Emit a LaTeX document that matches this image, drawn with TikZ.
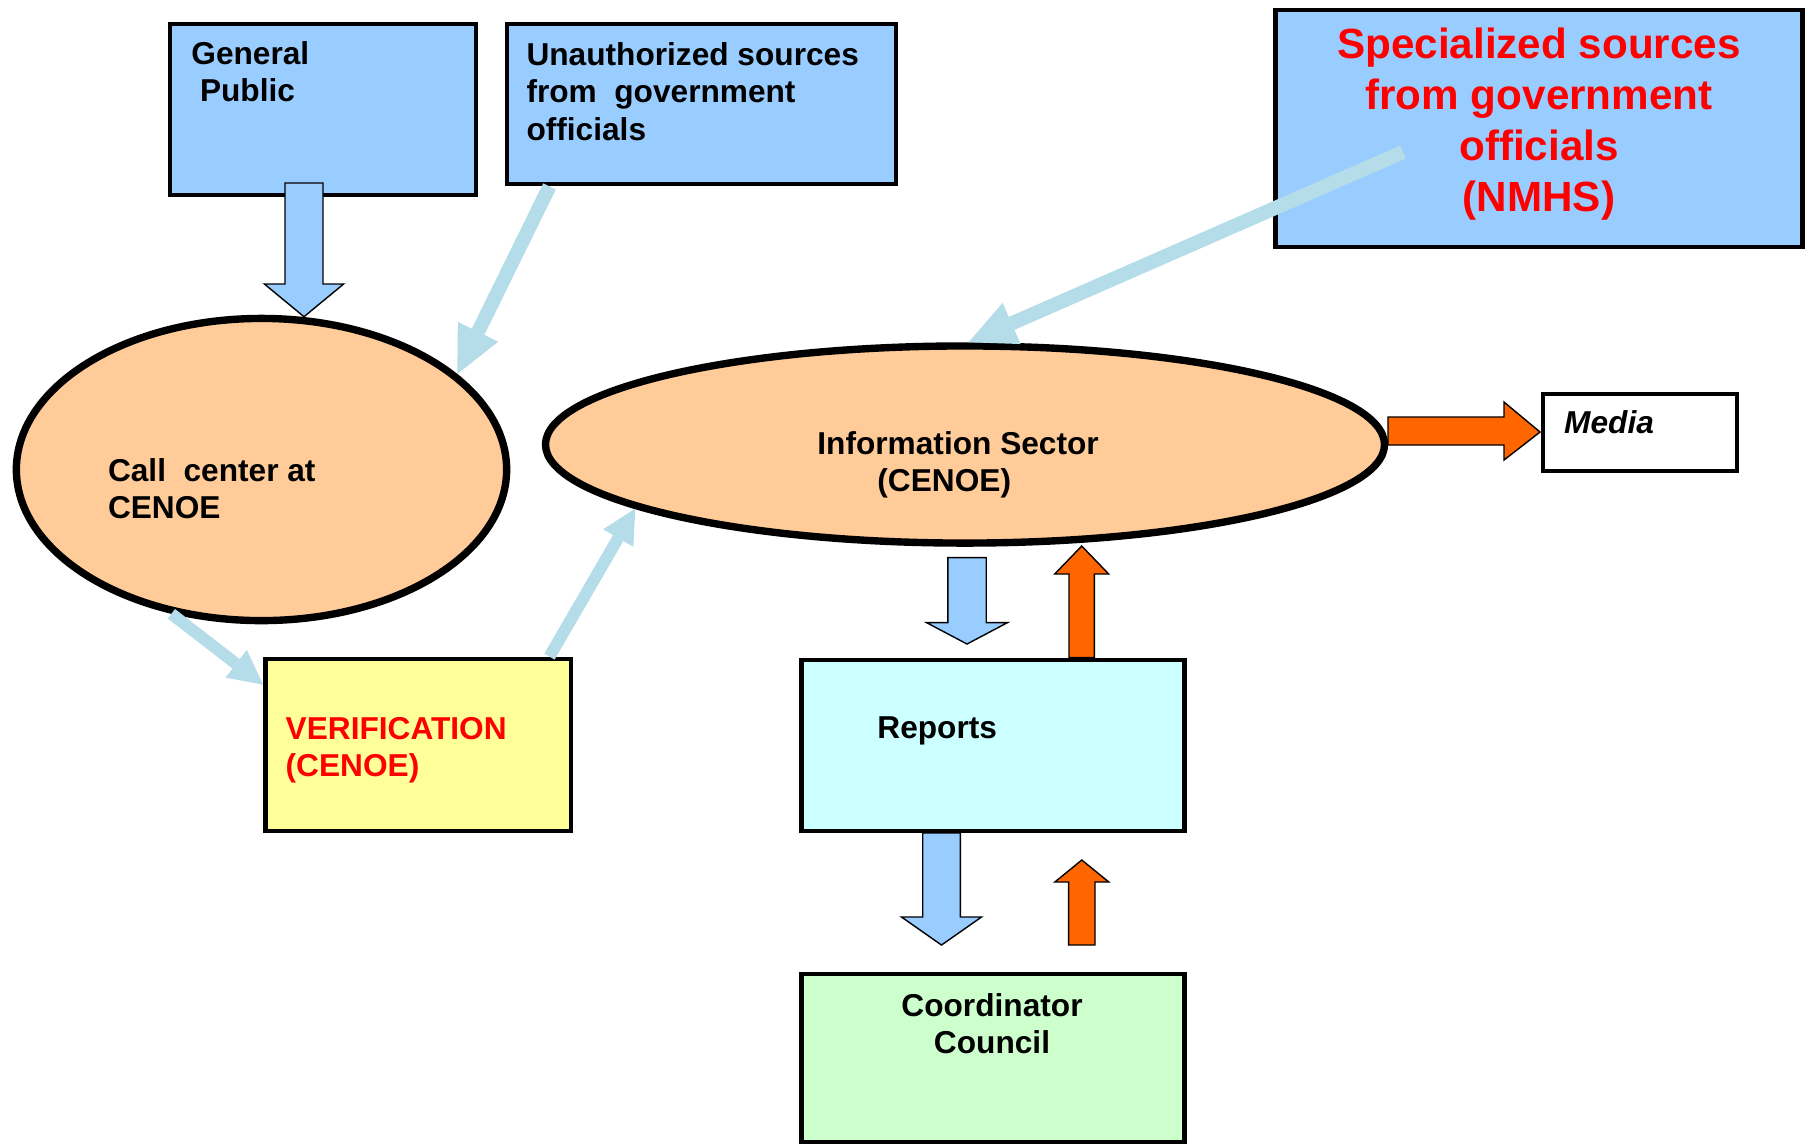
\documentclass[tikz,border=0pt]{standalone}
\usepackage{fontspec}
\setmainfont{Liberation Sans}
\usetikzlibrary{arrows.meta,calc,shapes.geometric}

\definecolor{boxblue}{HTML}{99CCFF}
\definecolor{peach}{HTML}{FFCC99}
\definecolor{paleyellow}{HTML}{FFFF99}
\definecolor{palecyan}{HTML}{CCFFFF}
\definecolor{palegreen}{HTML}{CCFFCC}
\definecolor{flowblue}{HTML}{B4DDE9}
\definecolor{hotorange}{HTML}{FF6600}

% vertical block arrow: [style](centre x, tail y, head y, tip y)(half shaft, half head)
\def\vblock[#1](#2,#3,#4,#5)(#6,#7){\draw[#1] ({#2-#6},#3) -- ({#2+#6},#3) -- ({#2+#6},#4) -- ({#2+#7},#4) -- (#2,#5) -- ({#2-#7},#4) -- ({#2-#6},#4) -- cycle;}

\tikzset{
  box/.style={rectangle, draw, line width=1.35pt, inner sep=0pt},
  blob/.style={ellipse, draw, line width=2.1pt, fill=peach, inner sep=0pt},
  txt/.style={anchor=base west, inner sep=0pt, align=left, font=\fontsize{9}{10.6}\selectfont\bfseries},
  flow/.style={draw=flowblue, line width=4pt, -{Triangle[length=0.47cm, width=0.45cm, line width=0pt]}},
  thinflow/.style={draw=flowblue, line width=3.4pt, -{Triangle[length=0.34cm, width=0.35cm, line width=0pt]}},
  downblock/.style={draw=black, line width=0.4pt, fill=boxblue},
  upblock/.style={draw=black, line width=0.4pt, fill=hotorange},
}

\begin{document}
\begin{tikzpicture}[x=0.01cm, y=-0.01cm]
		%%%%% START %%%%%
		\useasboundingbox (0,0) rectangle (1812,1144);
		
		% sources (text nodes sit on their last baseline)
		\node[box, fill=boxblue, minimum width=3.06cm, minimum height=1.71cm] (gp) at (323,109.5) {};
		\node[box, fill=boxblue, minimum width=3.89cm, minimum height=1.60cm] (unauth) at (701.5,104) {};
		\node[box, fill=boxblue, minimum width=5.26cm, minimum height=2.37cm] (spec) at (1539,128.5) {};
		
		\node[txt] (gp text) at (190.7,101.7) {General\\\hspace*{0.086cm}Public};
		\node[txt] (unauth text) at (525.8,140) {Unauthorized sources\\from\ \ government\\officials};
		\node[txt, anchor=base, align=center, text=red, font=\fontsize{12}{14.5}\selectfont\bfseries] (spec text) at (1539,211.7) {Specialized sources\\from government\\officials\\(NMHS)};
		
		% centres
		\node[blob, minimum width=4.90cm, minimum height=3.02cm] (call) at (261.5,469.5) {};
		\node[blob, minimum width=8.385cm, minimum height=1.97cm] (info) at (965,444.5) {};
		
		\node[txt] (call text) at (107.3,518.3) {Call\ \ center at\\CENOE};
		\node[txt] (info text) at (816.7,491.7) {Information Sector\\\hspace*{0.6cm}(CENOE)};
		
		% outputs
		\node[box, fill=white, minimum width=1.94cm, minimum height=0.77cm] (media) at (1640,432.5) {};
		\node[txt, font=\fontsize{9}{10.6}\selectfont\bfseries\itshape] (media text) at (1563.5,433) {Media};
		
		\node[box, fill=paleyellow, minimum width=3.055cm, minimum height=1.72cm] (verif) at (418.25,745) {};
		\node[txt, text=red] (verif text) at (285,776.7) {VERIFICATION\\(CENOE)};
		
		\node[box, fill=palecyan, minimum width=3.83cm, minimum height=1.71cm] (reports) at (993,745.5) {};
		\node[txt] (reports text) at (876.7,738.7) {Reports};
		
		\node[box, fill=palegreen, minimum width=3.83cm, minimum height=1.68cm] (coord) at (993,1058) {};
		\node[txt, anchor=base, align=center] (coord text) at (992,1053.5) {Coordinator\\Council};
		
		% block arrows
		\vblock[downblock](304,183,284,316.7)(19,39.6)
		\vblock[downblock](967,557.6,622.6,644)(19.2,40.5)
		\vblock[downblock](941.5,833,917,945)(18.8,40)
		\vblock[upblock](1081.7,657.6,574,546)(12.7,27)
		\vblock[upblock](1081.8,945,882,860)(13.2,27)
		\draw[upblock] (1388,417) -- (1504,417) -- (1504,402) -- (1540,432) -- (1504,460) -- (1504,445) -- (1388,445) -- cycle;
		
		% flows
		\coordinate (spec tail) at (1403,152);
		\draw[flow] ($(unauth.south west)+(45,0)$) -- (call.26);
		\draw[flow] (spec tail) -- (info.88);
		\draw[thinflow] (call.238) -- ($(verif.north west)+(0,28)$);
		\draw[thinflow] ($(verif.north east)+(-24,0)$) -- (info.191);
		
		%%%%% END %%%%%
	\end{tikzpicture}
\end{document}
